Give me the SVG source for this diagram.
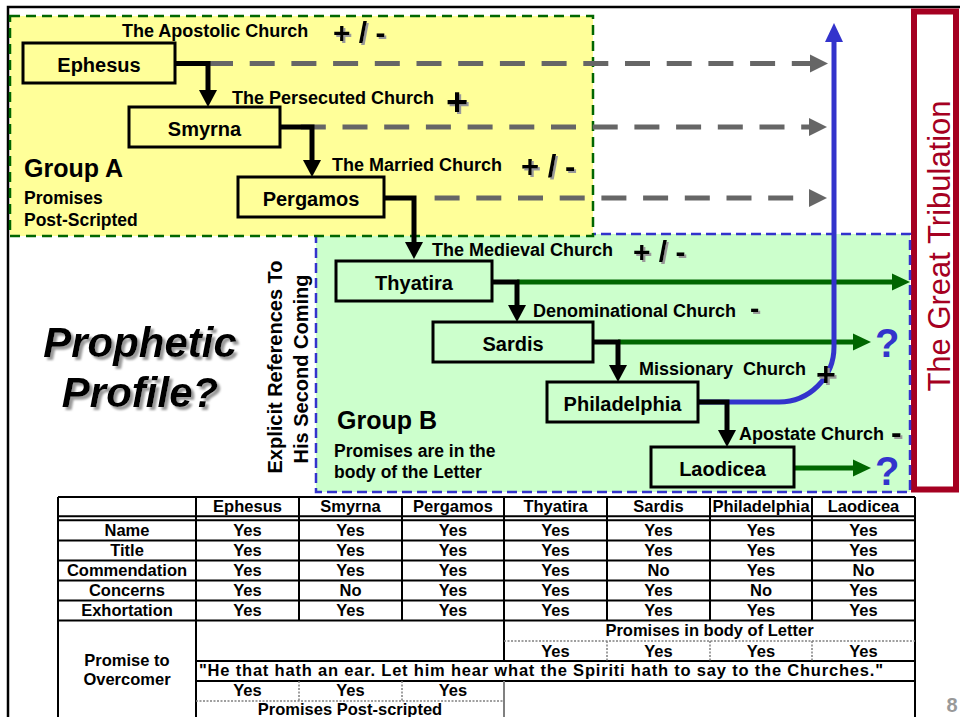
<svg xmlns="http://www.w3.org/2000/svg" width="960" height="717" viewBox="0 0 960 717">
<style>
  text { font-family: "Liberation Sans", Arial, sans-serif; font-weight: bold; fill: #000; }
  .node rect { stroke: #000; stroke-width: 3; }
  .na rect { fill: #FFFF99; }
  .nb rect { fill: #CCFFCC; }
  .ntxt { font-size: 20px; text-anchor: middle; }
  .lbl { font-size: 18px; }
  .sym { filter: url(#sh); }
  .sub { font-size: 17.5px; }
  .grp { font-size: 25px; }
  .blk { fill: none; stroke: #000; stroke-width: 5; stroke-linejoin: miter; marker-end: url(#ahK); }
  .gry { fill: none; stroke: #666; stroke-width: 5; stroke-dasharray: 25 16.7; marker-end: url(#ahG); }
  .grn { fill: none; stroke: #006600; stroke-width: 5; marker-end: url(#ahN); }
  .tb { font-size: 16.5px; text-anchor: middle; }
  .tl { fill: none; stroke: #000; stroke-width: 2; }
  .tg { fill: none; stroke: #808080; stroke-width: 1.5; stroke-dasharray: 2 1.5; }
  .q { fill: #3333CC; font-size: 40px; }
</style>
<defs>
  <marker id="ahK" markerUnits="userSpaceOnUse" markerWidth="18" markerHeight="18" refX="0" refY="9" orient="auto" overflow="visible"><path d="M0,0 L17,9 L0,18 z" fill="#000"/></marker>
  <marker id="ahG" markerUnits="userSpaceOnUse" markerWidth="18" markerHeight="18" refX="0" refY="9" orient="auto" overflow="visible"><path d="M0,0 L18,9 L0,18 z" fill="#666"/></marker>
  <marker id="ahN" markerUnits="userSpaceOnUse" markerWidth="18" markerHeight="18" refX="0" refY="8.5" orient="auto" overflow="visible"><path d="M0,0 L18,8.5 L0,17 z" fill="#006600"/></marker>
  <marker id="ahB" markerUnits="userSpaceOnUse" markerWidth="19" markerHeight="19" refX="0" refY="9" orient="auto" overflow="visible"><path d="M0,0 L19,9 L0,18 z" fill="#3333CC"/></marker>
  <filter id="sh" x="-30%" y="-30%" width="160%" height="160%"><feDropShadow dx="2" dy="2" stdDeviation="0.6" flood-color="#999"/></filter>
  <filter id="sh3" x="-20%" y="-20%" width="140%" height="140%"><feDropShadow dx="3" dy="3" stdDeviation="0.8" flood-color="#999"/></filter>
</defs>

<rect x="0" y="0" width="960" height="717" fill="#fff"/>
<path d="M8,717 V7 H960" fill="none" stroke="#000" stroke-width="2.5"/>

<!-- Tribulation -->
<g id="tribulation">
  <rect x="914" y="11.5" width="42" height="478" fill="#fff" stroke="#A50021" stroke-width="6"/>
  <text transform="translate(950,246) rotate(-90)" text-anchor="middle" style="font-weight:normal;font-size:31px;fill:#A50021">The Great Tribulation</text>
</g>

<!-- Group B -->
<g id="group-b">
  <rect x="316" y="234" width="594" height="258" fill="#CCFFCC" stroke="#3333CC" stroke-width="2.5" stroke-dasharray="10 5"/>
  <text class="grp" x="337" y="429">Group B</text>
  <text class="sub" x="334" y="457">Promises are in the</text>
  <text class="sub" x="334" y="478">body of the Letter</text>
</g>

<!-- Group A -->
<g id="group-a">
  <rect x="10" y="16" width="583" height="220" fill="#FFFF99" stroke="#006600" stroke-width="2.5" stroke-dasharray="10 6"/>
  <text class="grp" x="24" y="177">Group A</text>
  <text class="sub" x="24" y="204">Promises</text>
  <text class="sub" x="24" y="226">Post-Scripted</text>
</g>

<!-- side texts -->
<g id="prophetic">
  <text x="140" y="357" text-anchor="middle" style="font-size:42px;font-style:italic;filter:url(#sh3)">Prophetic</text>
  <text x="140" y="407" text-anchor="middle" style="font-size:42px;font-style:italic;filter:url(#sh3)">Profile?</text>
</g>
<g id="explicit">
  <text transform="translate(282,367) rotate(-90)" text-anchor="middle" style="font-size:20px">Explicit References To</text>
  <text transform="translate(308,369) rotate(-90)" text-anchor="middle" style="font-size:20px">His Second Coming</text>
</g>

<!-- Connectors -->
<g id="connectors">
  <path class="gry" d="M208,63.5 H810"/>
  <path class="gry" d="M300.8,127 H809"/>
  <path class="gry" d="M434.6,198 H809"/>
  <path class="grn" d="M517,282 H892"/>
  <path class="grn" d="M618,342 H853"/>
  <path class="grn" d="M794,468 H853"/>
  <path fill="none" stroke="#3333CC" stroke-width="5" marker-end="url(#ahB)" d="M698,402 H779 A55,55 0 0 0 834,347 V42"/>
  <path class="blk" d="M175,63.5 H208 V90"/>
  <path class="blk" d="M280,127 H312 V160"/>
  <path class="blk" d="M384,198 H414 V242"/>
  <path class="blk" d="M492,282 H517 V305"/>
  <path class="blk" d="M593,342 H618 V365"/>
  <path class="blk" d="M698,402 H727 V430"/>
</g>

<!-- Nodes -->
<g id="ephesus" class="node na">
  <rect x="23" y="43" width="152" height="40"/>
  <text class="ntxt" x="99" y="71.5">Ephesus</text>
  <text class="lbl" x="122" y="37">The Apostolic Church</text>
  <text class="sym" x="333" y="43" style="font-size:30px">+ / -</text>
</g>
<g id="smyrna" class="node na">
  <rect x="129" y="107" width="151" height="40"/>
  <text class="ntxt" x="204.5" y="135.5">Smyrna</text>
  <text class="lbl" x="232" y="104">The Persecuted Church</text>
  <text class="sym" x="446" y="115" style="font-size:38px">+</text>
</g>
<g id="pergamos" class="node na">
  <rect x="238" y="177" width="146" height="40"/>
  <text class="ntxt" x="311" y="205.5">Pergamos</text>
  <text class="lbl" x="332" y="171">The Married Church</text>
  <text class="sym" x="521" y="177" style="font-size:31px">+ / -</text>
</g>
<g id="thyatira" class="node nb">
  <rect x="336" y="261" width="156" height="40"/>
  <text class="ntxt" x="414" y="289.5">Thyatira</text>
  <text class="lbl" x="432" y="256">The Medieval Church</text>
  <text class="sym" x="633" y="262" style="font-size:30px">+ / -</text>
</g>
<g id="sardis" class="node nb">
  <rect x="433" y="322" width="160" height="40"/>
  <text class="ntxt" x="513" y="350.5">Sardis</text>
  <text class="lbl" x="533" y="317">Denominational Church</text>
  <text class="sym" x="750" y="318" style="font-size:28px">-</text>
  <text class="q" x="875" y="357">?</text>
</g>
<g id="philadelphia" class="node nb">
  <rect x="547" y="382" width="151" height="40"/>
  <text class="ntxt" x="622.5" y="410.5">Philadelphia</text>
  <text class="lbl" x="639" y="375" xml:space="preserve">Missionary  Church</text>
  <text class="sym" x="816" y="386" style="font-size:34px">+</text>
</g>
<g id="laodicea" class="node nb">
  <rect x="651" y="447" width="143" height="40"/>
  <text class="ntxt" x="722.5" y="475.5">Laodicea</text>
  <text class="lbl" x="739" y="440">Apostate Church</text>
  <text class="sym" x="891" y="443" style="font-size:32px">-</text>
  <text class="q" x="875" y="485">?</text>
</g>

<!-- Table -->
<g id="table">
  <rect x="58" y="497" width="857" height="220" fill="#fff"/>
  <path class="tl" d="M58,497 H915 M58,516.3 H915 M58,520.3 H915 M58,540.5 H915 M58,560.5 H915 M58,580.5 H915 M58,600.5 H915 M58,620.5 H915 M196,661 H915 M196,681 H915"/>
  <path class="tl" d="M58,497 V717 M196,497 V717 M299,497 V620.5 M402,497 V620.5 M504,497 V661 M607,497 V620.5 M710,497 V620.5 M812,497 V620.5 M915,497 V717"/>
  <path d="M504,681 V717" stroke="#808080" stroke-width="2" fill="none"/>
  <path class="tg" d="M196,701 H504 M504,641 H915 M299,681 V701 M402,681 V701 M607,641 V661 M710,641 V661 M812,641 V661"/>

  <text class="tb" x="247.5" y="512">Ephesus</text>
  <text class="tb" x="350.5" y="512">Smyrna</text>
  <text class="tb" x="453" y="512">Pergamos</text>
  <text class="tb" x="555.5" y="512">Thyatira</text>
  <text class="tb" x="658.5" y="512">Sardis</text>
  <text class="tb" x="761" y="512">Philadelphia</text>
  <text class="tb" x="863.5" y="512">Laodicea</text>

  <text class="tb" x="127" y="536">Name</text>
  <text class="tb" x="247.5" y="536">Yes</text><text class="tb" x="350.5" y="536">Yes</text><text class="tb" x="453" y="536">Yes</text><text class="tb" x="555.5" y="536">Yes</text><text class="tb" x="658.5" y="536">Yes</text><text class="tb" x="761" y="536">Yes</text><text class="tb" x="863.5" y="536">Yes</text>

  <text class="tb" x="127" y="556">Title</text>
  <text class="tb" x="247.5" y="556">Yes</text><text class="tb" x="350.5" y="556">Yes</text><text class="tb" x="453" y="556">Yes</text><text class="tb" x="555.5" y="556">Yes</text><text class="tb" x="658.5" y="556">Yes</text><text class="tb" x="761" y="556">Yes</text><text class="tb" x="863.5" y="556">Yes</text>

  <text class="tb" x="127" y="576">Commendation</text>
  <text class="tb" x="247.5" y="576">Yes</text><text class="tb" x="350.5" y="576">Yes</text><text class="tb" x="453" y="576">Yes</text><text class="tb" x="555.5" y="576">Yes</text><text class="tb" x="658.5" y="576">No</text><text class="tb" x="761" y="576">Yes</text><text class="tb" x="863.5" y="576">No</text>

  <text class="tb" x="127" y="596">Concerns</text>
  <text class="tb" x="247.5" y="596">Yes</text><text class="tb" x="350.5" y="596">No</text><text class="tb" x="453" y="596">Yes</text><text class="tb" x="555.5" y="596">Yes</text><text class="tb" x="658.5" y="596">Yes</text><text class="tb" x="761" y="596">No</text><text class="tb" x="863.5" y="596">Yes</text>

  <text class="tb" x="127" y="616">Exhortation</text>
  <text class="tb" x="247.5" y="616">Yes</text><text class="tb" x="350.5" y="616">Yes</text><text class="tb" x="453" y="616">Yes</text><text class="tb" x="555.5" y="616">Yes</text><text class="tb" x="658.5" y="616">Yes</text><text class="tb" x="761" y="616">Yes</text><text class="tb" x="863.5" y="616">Yes</text>

  <text class="tb" x="127" y="666">Promise to</text>
  <text class="tb" x="127" y="685">Overcomer</text>
  <text class="tb" x="709.5" y="636">Promises in body of Letter</text>
  <text class="tb" x="555.5" y="656.5">Yes</text><text class="tb" x="658.5" y="656.5">Yes</text><text class="tb" x="761" y="656.5">Yes</text><text class="tb" x="863.5" y="656.5">Yes</text>
  <text x="199" y="676" textLength="684" lengthAdjust="spacing" style="font-size:16.5px">"He that hath an ear. Let him hear what the Spiriti hath to say to the Churches."</text>
  <text class="tb" x="247.5" y="696">Yes</text><text class="tb" x="350.5" y="696">Yes</text><text class="tb" x="453" y="696">Yes</text>
  <text class="tb" x="350" y="715">Promises Post-scripted</text>
</g>

<text x="952" y="712" text-anchor="middle" style="font-size:20px;fill:#999">8</text>
</svg>
